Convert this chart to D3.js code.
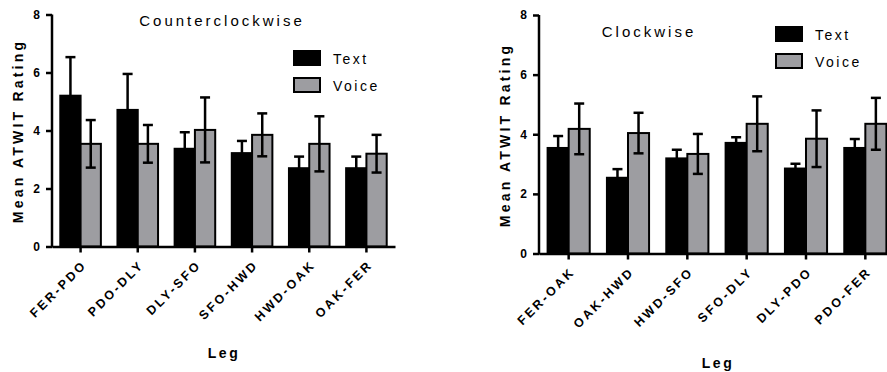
<!DOCTYPE html>
<html>
<head>
<meta charset="utf-8">
<script src="https://cdn.jsdelivr.net/npm/d3@7"></script>
<style>
  body { margin: 0; background: #fff; }
  svg { display: block; font-family: 'Liberation Sans', Arial, sans-serif; }
</style>
</head>
<body>
<div id="chart"></div>
<script>
const width = 887
const height = 372

const series = ['Text', 'Voice']
const yTicks = [0, 2, 4, 6, 8]

// counterclockwise panel
const ccwLegs = ['FER-PDO', 'PDO-DLY', 'DLY-SFO', 'SFO-HWD', 'HWD-OAK', 'OAK-FER']
const ccwText = [5.2, 4.71, 3.37, 3.22, 2.7, 2.7]
const ccwTextErr = [1.33, 1.24, 0.57, 0.42, 0.4, 0.4]
const ccwVoice = [3.54, 3.54, 4.02, 3.85, 3.54, 3.2]
const ccwVoiceErr = [0.82, 0.65, 1.12, 0.74, 0.95, 0.65]

// clockwise panel
const cwLegs = ['FER-OAK', 'OAK-HWD', 'HWD-SFO', 'SFO-DLY', 'DLY-PDO', 'PDO-FER']
const cwText = [3.54, 2.54, 3.19, 3.71, 2.85, 3.54]
const cwTextErr = [0.4, 0.29, 0.29, 0.19, 0.16, 0.3]
const cwVoice = [4.18, 4.04, 3.34, 4.35, 3.85, 4.35]
const cwVoiceErr = [0.85, 0.68, 0.67, 0.92, 0.95, 0.87]

const colors = { Text: '#000', Voice: '#9d9da1' }

const svg = d3
  .select('#chart')
  .append('svg')
  .attr('width', width)
  .attr('height', height)

function drawPanel(opts) {
  const rows = opts.legs.map((leg, i) => ({
    leg: leg,
    values: [
      { key: 'Text', v: opts.text[i], e: opts.textErr[i] },
      { key: 'Voice', v: opts.voice[i], e: opts.voiceErr[i] }
    ]
  }))

  const x = d3
    .scaleBand()
    .domain(opts.legs)
    .range([opts.left, opts.right])
    .paddingInner(0.29)
    .paddingOuter(0.145)
  const x1 = d3.scaleBand().domain(series).range([0, x.bandwidth()])
  const y = d3.scaleLinear().domain([0, 8]).range([opts.bottom, opts.top])

  const g = svg.append('g')

  // bars
  const groups = g
    .selectAll('.leg')
    .data(rows)
    .enter()
    .append('g')
    .attr('transform', d => `translate(${x(d.leg)},0)`)

  groups
    .selectAll('rect')
    .data(d => d.values)
    .enter()
    .append('rect')
    .attr('x', d => x1(d.key))
    .attr('width', x1.bandwidth())
    .attr('y', d => y(d.v))
    .attr('height', d => y(0) - y(d.v))
    .attr('fill', d => colors[d.key])
    .attr('stroke', '#000')
    .attr('stroke-width', 2)

  // error bars
  const err = groups
    .selectAll('.err')
    .data(d => d.values)
    .enter()
    .append('g')
    .attr('stroke', '#000')
    .attr('stroke-width', 2.5)
  err
    .append('line')
    .attr('x1', d => x1(d.key) + x1.bandwidth() / 2)
    .attr('x2', d => x1(d.key) + x1.bandwidth() / 2)
    .attr('y1', d => y(d.v - d.e))
    .attr('y2', d => y(d.v + d.e))
  ;[1, -1].forEach(s => {
    err
      .append('line')
      .attr('x1', d => x1(d.key) + x1.bandwidth() / 2 - 5)
      .attr('x2', d => x1(d.key) + x1.bandwidth() / 2 + 5)
      .attr('y1', d => y(d.v + s * d.e))
      .attr('y2', d => y(d.v + s * d.e))
  })

  // y axis
  const yAxis = g
    .append('g')
    .attr('transform', `translate(${opts.left},0)`)
    .call(d3.axisLeft(y).tickValues(yTicks).tickSize(6).tickPadding(6))
  yAxis.select('.domain').attr('stroke-width', 2.5).attr('d', `M0,${y(8)}V${y(0) + 1}`)
  yAxis.selectAll('.tick line').attr('stroke-width', 2.5)
  yAxis
    .selectAll('.tick text')
    .attr('font-size', 12)
    .attr('font-weight', 'bold')
    .attr('fill', '#000')

  // x axis
  const xAxis = g
    .append('g')
    .attr('transform', `translate(0,${y(0)})`)
    .call(d3.axisBottom(x).tickSize(6).tickSizeOuter(0))
  xAxis.select('.domain').attr('stroke-width', 2.5)
  xAxis.selectAll('.tick line').attr('stroke-width', 2.5)
  xAxis
    .selectAll('.tick text')
    .attr('font-size', 12.5)
    .attr('font-weight', 'bold')
    .attr('fill', '#000')
    .attr('text-anchor', 'end')
    .style('letter-spacing', '2.6px')
    .attr('y', 0)
    .attr('dy', 0)
    .attr('transform', 'translate(7,19) rotate(-45)')

  // titles
  g.append('text')
    .text(opts.title)
    .attr('x', opts.titleX)
    .attr('y', opts.titleY)
    .attr('text-anchor', 'middle')
    .attr('font-size', 15)
    .style('letter-spacing', '3px')

  g.append('text')
    .text('Mean ATWIT Rating')
    .attr('transform', `translate(${opts.left - 29},${opts.ylabY}) rotate(-90)`)
    .attr('text-anchor', 'middle')
    .attr('font-size', 14)
    .attr('font-weight', 'bold')
    .style('letter-spacing', '3.2px')

  g.append('text')
    .text('Leg')
    .attr('x', opts.xlabX)
    .attr('y', opts.xlabY)
    .attr('text-anchor', 'middle')
    .attr('font-size', 14)
    .attr('font-weight', 'bold')
    .style('letter-spacing', '2.5px')

  // legend
  const legend = g
    .selectAll('.legend')
    .data(series)
    .enter()
    .append('g')
    .attr('transform', (d, i) => `translate(${opts.legX},${opts.legY + i * 27})`)
  legend
    .append('rect')
    .attr('width', 26)
    .attr('height', 14)
    .attr('fill', d => colors[d])
    .attr('stroke', '#000')
    .attr('stroke-width', 2)
  legend
    .append('text')
    .text(d => d)
    .attr('x', 39)
    .attr('y', 13)
    .attr('font-size', 14)
    .style('letter-spacing', '2.5px')
}

drawPanel({
  legs: ccwLegs, text: ccwText, textErr: ccwTextErr, voice: ccwVoice, voiceErr: ccwVoiceErr,
  left: 52, right: 395, top: 14.5, bottom: 246.5,
  title: 'Counterclockwise', titleX: 222, titleY: 26,
  ylabY: 131, xlabX: 224, xlabY: 358,
  legX: 294, legY: 51
})

drawPanel({
  legs: cwLegs, text: cwText, textErr: cwTextErr, voice: cwVoice, voiceErr: cwVoiceErr,
  left: 539, right: 895, top: 15, bottom: 253.5,
  title: 'Clockwise', titleX: 649, titleY: 37,
  ylabY: 135, xlabX: 718, xlabY: 368,
  legX: 776, legY: 27
})
</script>
</body>
</html>
